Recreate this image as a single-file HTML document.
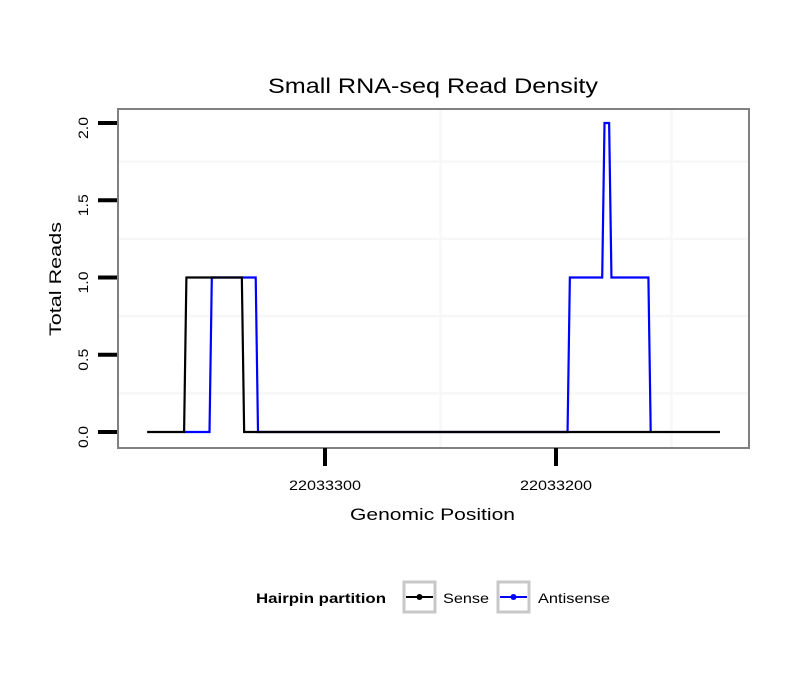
<!DOCTYPE html>
<html><head><meta charset="utf-8"><style>
body{margin:0;background:#fff}
svg{display:block;font-family:"Liberation Sans",sans-serif}
</style></head><body>
<svg width="810" height="690" viewBox="0 0 810 690">
<rect width="810" height="690" fill="#fff"/>
<text x="268" y="93" font-size="21" textLength="330" lengthAdjust="spacingAndGlyphs" fill="#000">Small RNA-seq Read Density</text>
<g id="grid"></g>
<g id="series"></g>
<rect x="118" y="109" width="631" height="339" fill="none" stroke="#808080" stroke-width="2"/>
<g id="axes"></g>
<text x="350" y="520" font-size="17" textLength="165" lengthAdjust="spacingAndGlyphs">Genomic Position</text>
<text transform="translate(61,336) rotate(-90)" font-size="17" textLength="114" lengthAdjust="spacingAndGlyphs">Total Reads</text>
<g>
<text x="256" y="603" font-size="14" font-weight="bold" textLength="130" lengthAdjust="spacingAndGlyphs">Hairpin partition</text>
<g>
<rect x="404" y="582" width="31" height="30" fill="#fff" stroke="#c8c8c8" stroke-width="3"/>
<line x1="406" y1="597" x2="433" y2="597" stroke="#000" stroke-width="2"/>
<circle cx="419.5" cy="597" r="3" fill="#000"/>
<text x="443" y="603" font-size="14" textLength="46" lengthAdjust="spacingAndGlyphs">Sense</text>
</g>
<g>
<rect x="498" y="582" width="31" height="30" fill="#fff" stroke="#c8c8c8" stroke-width="3"/>
<line x1="500" y1="597" x2="527" y2="597" stroke="#0000ff" stroke-width="2"/>
<circle cx="513.5" cy="597" r="3" fill="#0000ff"/>
<text x="538" y="603" font-size="14" textLength="72" lengthAdjust="spacingAndGlyphs">Antisense</text>
</g>
</g>
</svg>
<script>
const senseX=[22033377,22033361,22033360,22033336,22033335,22033129];
const senseY=[0,0,1,1,0,0];
const antiX=[22033361,22033350,22033349,22033330,22033329,22033195,22033194,22033180,22033179,22033177,22033176,22033160,22033159];
const antiY=[0,0,1,1,0,0,1,1,2,2,1,1,0];
const xTicks=[22033300,22033200];
const xTickLabels=["22033300","22033200"];
const xMinor=[22033250,22033150];
const yTicks=[0,0.5,1,1.5,2];
const yTickLabels=["0.0","0.5","1.0","1.5","2.0"];
const yMinor=[0.25,0.75,1.25,1.75];

const NS="http://www.w3.org/2000/svg";
const xs=v=>325+(22033300-v)*2.31;
const ys=v=>432-v*154.5;
function mk(tag,attrs,parent){const e=document.createElementNS(NS,tag);for(const k in attrs)e.setAttribute(k,attrs[k]);parent.appendChild(e);return e;}
const grid=document.getElementById('grid'),axes=document.getElementById('axes'),series=document.getElementById('series');
yMinor.forEach(v=>{const l=mk('line',{x1:118,x2:749,y1:ys(v),y2:ys(v),stroke:'#f7f7f7','stroke-width':2.5},grid);

});
xMinor.forEach(v=>{const l=mk('line',{x1:xs(v),x2:xs(v),y1:109,y2:448,stroke:'#f7f7f7','stroke-width':2.5},grid);

});
function path(X,Y,color,name){const d=X.map((x,i)=>(i?'L':'M')+xs(x)+','+ys(Y[i])).join(' ');
const p=mk('path',{d:d,fill:'none',stroke:color,'stroke-width':2.2,'stroke-linejoin':'miter'},series);

}
path(antiX,antiY,'#0000ff','antisense-line');
path(senseX,senseY,'#000','sense-line');
yTicks.forEach((v,i)=>{const t=mk('line',{x1:98,x2:117,y1:ys(v),y2:ys(v),stroke:'#000','stroke-width':4},axes);


const lb=mk('text',{transform:`translate(88,${ys(v)+16}) rotate(-90)`,'font-size':14,textLength:22,lengthAdjust:'spacingAndGlyphs'},axes);
lb.textContent=yTickLabels[i];

});
xTicks.forEach((v,i)=>{const t=mk('line',{x1:xs(v),x2:xs(v),y1:448,y2:466,stroke:'#000','stroke-width':4},axes);


const lb=mk('text',{x:xs(v)-36,y:490,'font-size':14,textLength:72,lengthAdjust:'spacingAndGlyphs'},axes);
lb.textContent=xTickLabels[i];

});
</script>
</body></html>
